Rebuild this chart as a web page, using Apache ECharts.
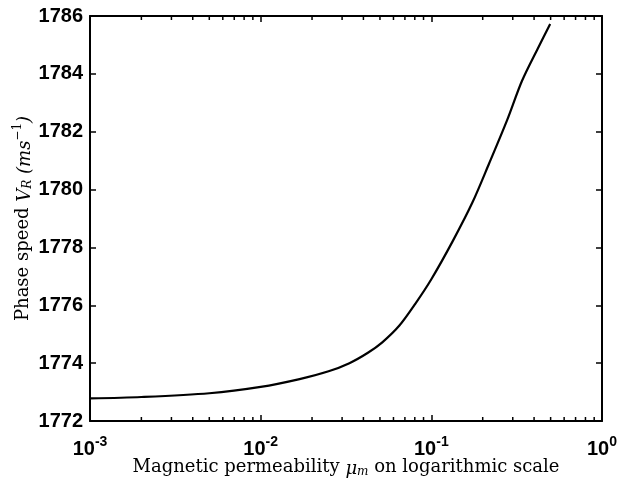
<!DOCTYPE html>
<html>
<head>
<meta charset="utf-8">
<script src="https://cdn.jsdelivr.net/npm/echarts@6/dist/echarts.min.js"></script>
<style>html,body{margin:0;padding:0;background:#fff}#c{width:618px;height:486px}</style>
</head>
<body>
<div id="c"></div>
<script>
// Data
const mu = [0.001, 0.002, 0.005, 0.01, 0.0169, 0.025, 0.0331, 0.0425, 0.0516, 0.065, 0.0805, 0.1, 0.133, 0.174, 0.218, 0.278, 0.34, 0.42, 0.497];
const phaseSpeed = [1772.78, 1772.83, 1772.96, 1773.18, 1773.45, 1773.72, 1774.0, 1774.36, 1774.72, 1775.3, 1776.05, 1776.9, 1778.2, 1779.55, 1780.9, 1782.4, 1783.76, 1784.87, 1785.72];
const xMin = 0.001, xMax = 1;
const yMin = 1772, yMax = 1786, yStep = 2;
const minorMult = [2, 3, 4, 5, 6, 7, 8, 9];

const minorTicks = [];
for (let d = -3; d < 0; d++) for (const m of minorMult) {
  minorTicks.push([m * Math.pow(10, d), yMin, -1]);
  minorTicks.push([m * Math.pow(10, d), yMax, 1]);
}

const tickFont = 'Liberation Sans, Arial, sans-serif';
const serif = 'DejaVu Serif, serif';

const chart = echarts.init(document.getElementById('c'), null, {renderer: 'canvas'});
const axisLine = {show: true, lineStyle: {color: '#000', width: 2}};
const majorTick = {show: true, inside: true, length: 6, lineStyle: {color: '#000', width: 1.5}};
chart.setOption({
  animation: false,
  backgroundColor: '#fff',
  grid: {left: 90, right: 16, top: 16, bottom: 65, containLabel: false, outerBoundsMode: 'none'},
  xAxis: [{
    type: 'log', logBase: 10, min: xMin, max: xMax,
    axisLine: axisLine, axisTick: majorTick,
    splitLine: {show: false},
    axisLabel: {
      margin: 14, color: '#000',
      formatter: v => '{b|10}{s|' + Math.round(Math.log10(v)) + '}',
      rich: {
        b: {fontFamily: tickFont, fontWeight: 'bold', fontSize: 20, color: '#000', verticalAlign: 'bottom', lineHeight: 24},
        s: {fontFamily: tickFont, fontWeight: 'bold', fontSize: 14, color: '#000', verticalAlign: 'top', lineHeight: 24}
      }
    },
    name: 'Magnetic permeability {i|μ}{sub|m} on logarithmic scale',
    nameLocation: 'middle', nameGap: 35, nameMoveOverlap: false,
    nameTextStyle: {
      fontFamily: serif, fontSize: 18, color: '#000',
      rich: {
        i: {fontFamily: serif, fontStyle: 'italic', fontSize: 18, color: '#000', verticalAlign: 'bottom', lineHeight: 22},
        sub: {fontFamily: serif, fontStyle: 'italic', fontSize: 12, color: '#000', verticalAlign: 'bottom', lineHeight: 22}
      }
    }
  }, {
    type: 'log', logBase: 10, min: xMin, max: xMax, position: 'top',
    axisLine: axisLine, axisTick: majorTick,
    axisLabel: {show: false}, splitLine: {show: false}
  }],
  yAxis: [{
    type: 'value', min: yMin, max: yMax, interval: yStep,
    axisLine: axisLine, axisTick: majorTick,
    splitLine: {show: false},
    axisLabel: {margin: 7, color: '#000', fontFamily: tickFont, fontWeight: 'bold', fontSize: 20, formatter: v => String(v)},
    name: 'Phase speed {i|V}{sub|R} {i|(ms}{sup|−1}{i|)}',
    nameLocation: 'middle', nameGap: 56, nameMoveOverlap: false,
    nameTextStyle: {
      fontFamily: serif, fontSize: 18, color: '#000',
      rich: {
        i: {fontFamily: serif, fontStyle: 'italic', fontSize: 18, color: '#000', verticalAlign: 'bottom', lineHeight: 22},
        sub: {fontFamily: serif, fontStyle: 'italic', fontSize: 12, color: '#000', verticalAlign: 'bottom', lineHeight: 22},
        sup: {fontFamily: serif, fontSize: 12, color: '#000', verticalAlign: 'top', lineHeight: 22}
      }
    }
  }, {
    type: 'value', min: yMin, max: yMax, interval: yStep, position: 'right',
    axisLine: axisLine, axisTick: majorTick,
    axisLabel: {show: false}, splitLine: {show: false}
  }],
  series: [{
    type: 'line',
    data: mu.map((x, i) => [x, phaseSpeed[i]]),
    showSymbol: false, smooth: 0.3,
    lineStyle: {color: '#000', width: 2.2}
  }, {
    type: 'custom', clip: false, silent: true,
    data: minorTicks,
    encode: {x: 0, y: 1},
    renderItem: (params, api) => {
      const p = api.coord([api.value(0), api.value(1)]);
      const dir = api.value(2);
      return {type: 'line', shape: {x1: p[0], y1: p[1], x2: p[0], y2: p[1] + dir * 4},
              style: {stroke: '#000', lineWidth: 1.5}};
    }
  }]
});
</script>
</body>
</html>
